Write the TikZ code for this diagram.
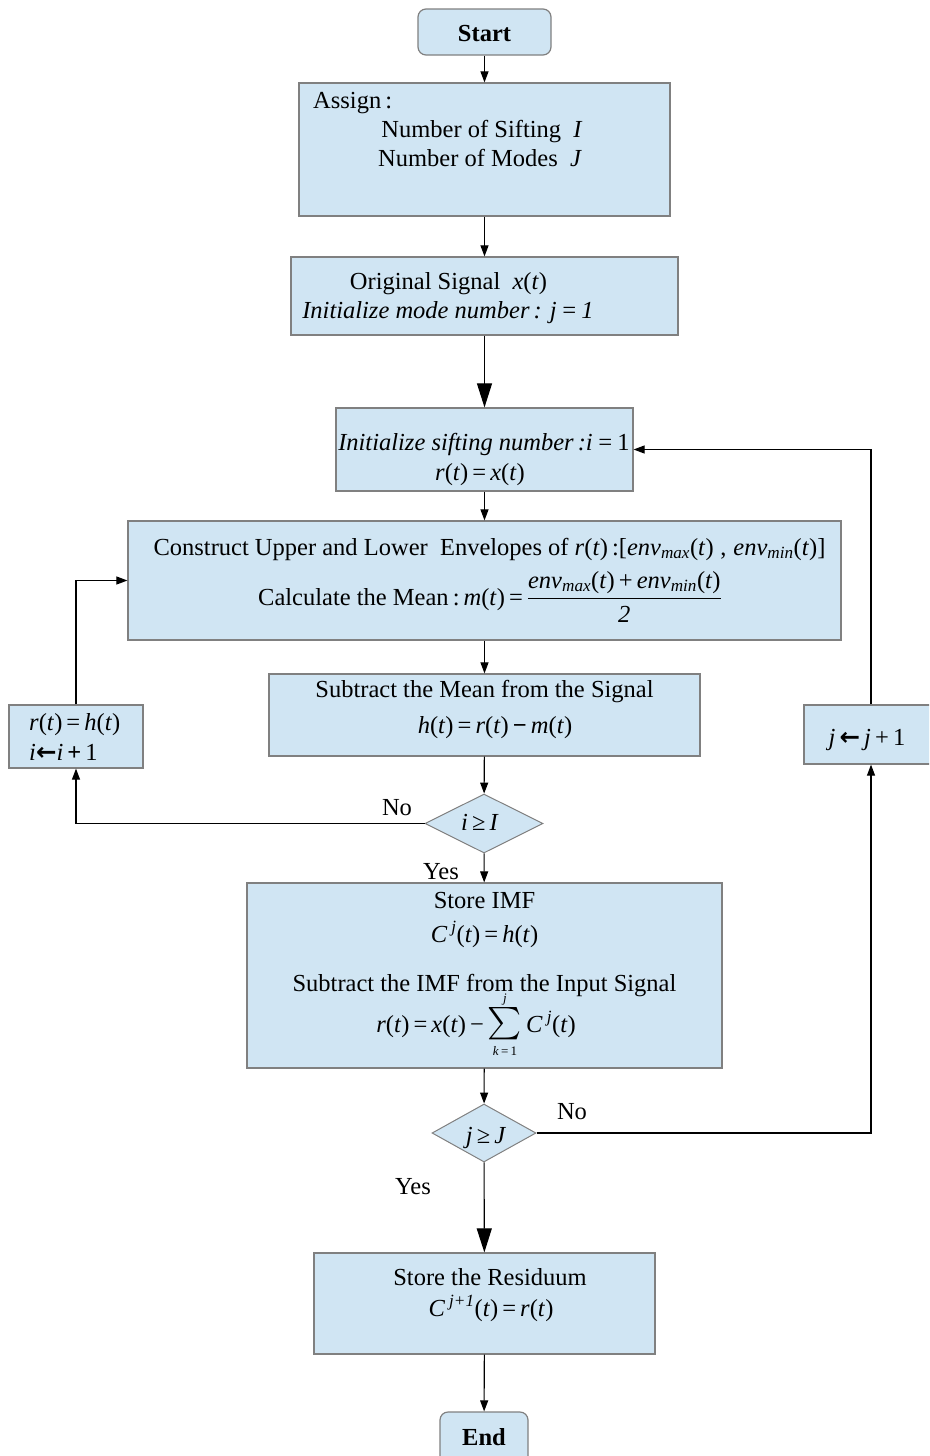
\documentclass[tikz,border=0pt]{standalone}
\usepackage{amsmath}
\usepackage{graphicx}
\usepackage{fontspec}
\setmainfont{Liberation Serif}
\newfontfamily\arrowfont{DejaVu Sans}
\usetikzlibrary{shapes.geometric,arrows.meta}
\definecolor{boxfill}{RGB}{208,229,243}
\definecolor{boxline}{RGB}{128,128,128}
\newcommand{\vi}[1]{\textit{#1}}
\newcommand{\sbs}[1]{\textsubscript{\textit{#1}}}
\newcommand{\sps}[1]{\textsuperscript{\textit{#1}}}
\newcommand{\getsarrow}{{\arrowfont\bfseries ←}}
\newcommand{\limfont}{\fontsize{13}{13}\selectfont}
\newcommand{\bigsum}{\mathop{\scalebox{1.3}{$\textstyle\sum$}}}

\begin{document}
\begin{tikzpicture}[x=1pt,y=-1pt,
  font=\fontsize{24.5}{28}\selectfont,
  box/.style={draw=boxline, fill=boxfill, line width=1.2pt, inner sep=0pt},
  term/.style={box, rounded corners=8pt},
  decision/.style={diamond, draw=boxline, fill=boxfill, line width=1pt, inner sep=0pt},
  txt/.style={inner sep=0pt, anchor=base},
  flow/.style={line width=1.1pt, -{Triangle[length=11pt,width=8pt]}},
  bigflow/.style={line width=1.1pt, -{Triangle[length=24pt,width=15pt]}},
]
\useasboundingbox (0,0) rectangle (929,1456);
\clip (0,0) rectangle (929,1456);

% boxes
\node[term, minimum width=133pt, minimum height=46pt] (start) at (484.5,32) {};
\node[box, minimum width=371pt, minimum height=133pt] (assign) at (484.5,149.5) {};
\node[box, minimum width=387pt, minimum height=78pt] (orig) at (484.5,296) {};
\node[box, minimum width=297pt, minimum height=83pt] (init) at (484.5,449.5) {};
\node[box, minimum width=713pt, minimum height=119pt] (env) at (484.5,580.5) {};
\node[box, minimum width=431pt, minimum height=82pt] (sub) at (484.5,715) {};
\node[box, minimum width=134pt, minimum height=63pt] (upd) at (76,736.5) {};
\node[decision, minimum width=118pt, minimum height=59pt] (dI) at (484,823.5) {};
\node[box, minimum width=475pt, minimum height=185pt] (imf) at (484.5,975.5) {};
\node[decision, minimum width=104pt, minimum height=58pt] (dJ) at (484,1133) {};
\node[box, minimum width=134pt, minimum height=59pt] (inc) at (871,734.5) {};
\node[box, minimum width=341pt, minimum height=101pt] (res) at (484.5,1303.5) {};
\node[term, minimum width=88pt, minimum height=60pt] (end) at (484,1442) {};

% texts
\node[txt] (tstart) at (484.5,41) {\textbf{Start}};
\node[txt, anchor=base west] (tassign) at (313,108) {Assign\,:};
\node[txt] (tsift) at (482,137) {Number of Sifting\enspace\vi{I}};
\node[txt] (tmodes) at (480,166) {Number of Modes\enspace\vi{J}};
\node[txt] (torig) at (448.5,289) {Original Signal\enspace\vi{x}(\vi{t})};
\node[txt] (tmode) at (448,318) {\vi{Initialize mode number\,: j\,=\,1}};
\node[txt] (tinit) at (484,450) {\vi{Initialize sifting number\,:i\,=}\,1};
\node[txt] (tinit2) at (480,480) {\vi{r}(\vi{t})\,=\,\vi{x}(\vi{t})};
\node[txt] (tenv) at (489.5,555) {Construct Upper and Lower\enspace Envelopes of \vi{r}(\vi{t})\,:[\vi{env}\sbs{max}(\vi{t})\;,\;\vi{env}\sbs{min}(\vi{t})]};
\node[txt] (tmean) at (490,605) {Calculate the Mean\,:\,\vi{m}(\vi{t})\,=\,$\displaystyle\frac{\mbox{\vi{env}\sbs{max}(\vi{t})\,+\,\vi{env}\sbs{min}(\vi{t})}}{\mbox{\vi{2}}}$};
\node[txt] (tsub) at (484.5,697) {Subtract the Mean from the Signal};
\node[txt] (tsub2) at (495,733) {\vi{h}(\vi{t})\,=\,\vi{r}(\vi{t})\,\textbf{−}\,\vi{m}(\vi{t})};
\node[txt, anchor=base west] (tupd) at (29,730) {\vi{r}(\vi{t})\,=\,\vi{h}(\vi{t})};
\node[txt, anchor=base west] (tupd2) at (29,760) {\vi{i}\getsarrow\vi{i}\,\textbf{+}\,1};
\node[txt] (tdI) at (480,830) {\vi{i}\,≥\,\vi{I}};
\node[txt] (tno1) at (397,815) {No};
\node[txt] (tyes1) at (441,879) {Yes};
\node[txt] (timf) at (484.5,908) {Store IMF};
\node[txt] (timf2) at (484.5,942) {\vi{C}\,\sps{j}(\vi{t})\,=\,\vi{h}(\vi{t})};
\node[txt] (timf3) at (484.5,991) {Subtract the IMF from the Input Signal};
\node[txt] (timf4) at (476,1032) {\vi{r}(\vi{t})\,=\,\vi{x}(\vi{t})\,−\,$\bigsum\limits_{\mbox{\limfont\vi{k}\,=\,1}}^{\mbox{\limfont\vi{j}}}$\,\vi{C}\,\sps{j}(\vi{t})};
\node[txt] (tdJ) at (486,1143) {\vi{j}\,≥\,\vi{J}};
\node[txt] (tno2) at (572,1119) {No};
\node[txt] (tyes2) at (413,1194) {Yes};
\node[txt] (tinc) at (867,745) {\vi{j}\,\getsarrow\,\vi{j}\,+\,1};
\node[txt] (tres) at (490,1285) {Store the Residuum};
\node[txt] (tres2) at (491,1316) {\vi{C}\,\sps{j+1}(\vi{t})\,=\,\vi{r}(\vi{t})};
\node[txt] (tend) at (484,1445) {\textbf{End}};

% connectors
\draw[flow] (start) -- (assign);
\draw[flow] (assign) -- (orig);
\draw[bigflow] (orig) -- (init);
\draw[flow] (init) -- (env);
\draw[flow] (env) -- (sub);
\draw[flow] (sub) -- (dI);
\draw[flow] (dI) -- (imf);
\draw[flow] (dI.west) -| (upd.south);
\draw[flow] (upd.north) |- (env.west);
\draw[flow] (imf) -- (dJ);
\draw[flow] (dJ.east) -| (inc.south);
\draw[flow] (inc.north) |- (init.east);
\draw[bigflow] (dJ) -- (res);
\draw[flow] (res) -- (end);
\end{tikzpicture}
\end{document}
